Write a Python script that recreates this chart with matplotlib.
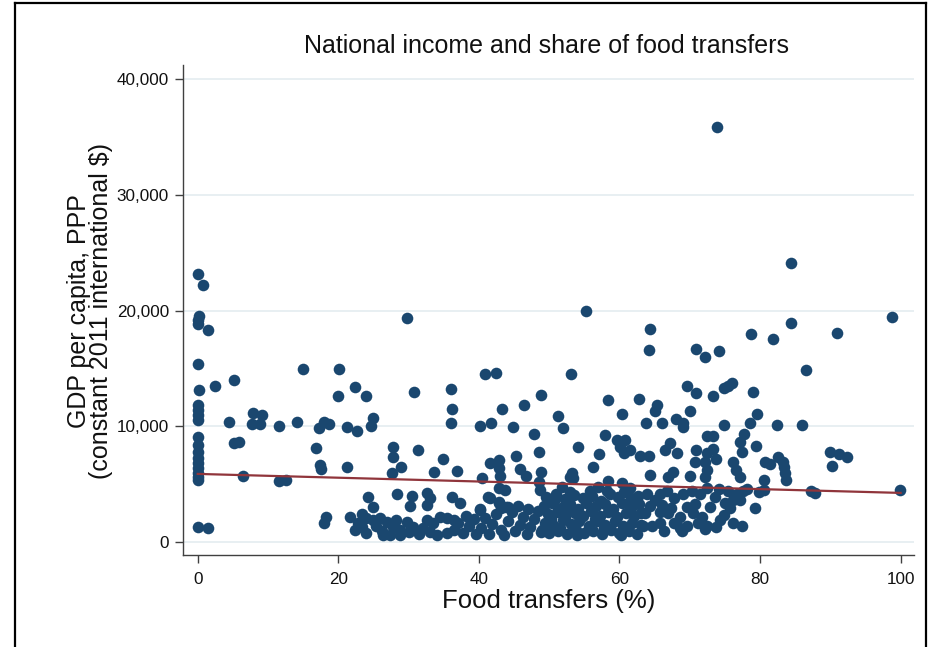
import matplotlib
matplotlib.use("Agg")
import matplotlib.pyplot as plt
from matplotlib.lines import Line2D
from matplotlib.ticker import FuncFormatter
import numpy as np

plt.rcParams['font.family'] = ['Liberation Sans', 'DejaVu Sans']

# Countries with (almost) no food transfers
share_zero = [0.0, 0.7, 0.2, 0.1, 0.0, 1.4, 0.0, 0.2, 0.0, 0.0, 0.0, 0.0,
              0.1, 0.0, 0.0, 0.0, 0.0, 0.0, 0.0, 0.0, 0.0, 0.1, 1.5]
gdp_zero = [23150, 22200, 19540, 19200, 18850, 18330, 15420, 13150, 11860, 11430, 11000, 10570,
            9120, 8400, 7820, 7250, 6820, 6390, 5960, 5600, 5380, 1350, 1260]

# Scattered observations, low to mid food-transfer shares
share_low = [29.7, 15.0, 20.1, 5.2, 2.4, 22.3, 19.9, 24.0, 30.8, 4.5, 7.8, 9.1,
             7.7, 8.9, 11.6, 14.1, 17.2, 17.9, 18.7, 21.2, 22.7, 24.65, 25.0, 5.2,
             5.9, 6.5, 11.6, 12.6, 16.8, 17.4, 17.6, 21.2, 27.8, 27.8, 28.9, 27.6,
             31.3, 24.2, 24.9, 28.4, 30.5, 30.2, 18.25, 17.97]
gdp_low = [19340, 14960, 14960, 14050, 13500, 13410, 12630, 12660, 13000, 10390, 11140, 10990,
           10215, 10215, 10040, 10410, 9840, 10410, 10215, 9980, 9640, 10040, 10710, 8550,
           8690, 5680, 5320, 5380, 8115, 6675, 6300, 6530, 8255, 7390, 6530, 5960,
           7940, 3940, 3020, 4145, 4000, 3160, 2210, 1690]

# Scattered observations, mid shares
share_mid = [55.3, 64.4, 64.2, 40.9, 42.5, 53.1, 36.0, 36.1, 36.0, 43.3, 46.4, 48.9,
             40.2, 41.7, 44.9, 47.9, 51.2, 52.0, 58.3, 60.4, 62.8, 65.3, 65.0, 63.8,
             66.0, 34.85, 33.6, 36.9, 54.05, 58.0, 57.1, 56.3, 48.6, 45.3, 45.8, 46.7,
             48.8, 41.6, 42.8, 42.9, 43.0, 40.4, 42.8, 43.7, 41.3, 42.9, 44.2, 36.1,
             37.3, 32.6, 33.0, 32.6, 40.1, 48.6, 48.7, 51.8, 53.2, 53.4, 53.0, 57.0,
             58.4, 60.3, 61.5, 64.3, 59.6, 60.8, 60.1, 61.5, 60.6, 62.9, 64.2, 41.6,
             42.8, 43.2, 43.9, 40.2]
gdp_mid = [20000, 18420, 16580, 14505, 14590, 14550, 13210, 11480, 10275, 11480, 11860, 12720,
           10070, 10275, 9980, 9350, 10905, 9840, 12290, 11080, 12350, 11860, 11365, 10275,
           10275, 7190, 6045, 6160, 8200, 9265, 7600, 6530, 7825, 7450, 6300, 5725,
           6100, 6820, 7110, 6390, 5725, 5580, 4660, 4515, 3885, 3505, 3075, 3940,
           3420, 4285, 3800, 3220, 2850, 5235, 4515, 4800, 5960, 5530, 5665, 4800,
           5320, 5095, 4660, 5810, 8835, 8835, 8255, 7970, 7685, 7450, 7450, 3800,
           3370, 2935, 3075, 2790]

# Scattered observations, high shares
share_high = [73.9, 84.35, 98.8, 84.35, 90.9, 78.7, 81.9, 70.9, 72.1, 74.1, 86.5, 69.6,
              70.9, 73.3, 74.8, 76.0, 75.4, 79.0, 68.0, 69.0, 70.0, 69.1, 74.9, 78.6,
              79.6, 82.4, 86.0, 72.4, 73.25, 77.7, 77.1, 77.4, 79.4, 67.2, 66.5, 68.2,
              70.9, 72.4, 73.25, 73.8, 70.7, 72.2, 72.4, 72.2, 76.2, 76.6, 77.1, 80.7,
              81.4, 82.6, 83.2, 83.4, 83.5, 83.7, 89.9, 91.3, 92.3, 90.3, 66.9, 67.6,
              70.0, 80.6, 80.5, 79.3, 78.2, 79.8, 87.2, 87.8, 99.9]
gdp_high = [35860, 24090, 19480, 18965, 18050, 17960, 17555, 16665, 16030, 16545, 14880, 13525,
            12865, 12630, 13300, 13780, 13500, 13000, 10620, 10275, 11365, 9980, 10130, 10330,
            11050, 10130, 10130, 9180, 9180, 9350, 8690, 7825, 8345, 8550, 7970, 7685,
            7970, 7685, 8030, 7165, 6960, 6960, 6245, 5665, 6960, 6245, 5665, 6960,
            6760, 7390, 6960, 6475, 5960, 5380, 7770, 7600, 7390, 6590, 5665, 6100,
            5725, 5380, 4515, 2935, 4575, 4370, 4455, 4285, 4515]

# Dense cluster of lower-income countries
share_dense = [21.7, 23.3, 24.0, 25.0, 25.9, 26.9, 27.8, 28.8, 29.7, 22.4, 24.0, 23.3,
               26.4, 27.4, 32.6, 33.5, 34.5, 35.4, 36.4, 33.0, 34.0, 35.4, 36.4, 32.1,
               28.8, 22.8, 25.3, 26.2, 28.2, 30.0, 31.5, 30.6,
               37.0, 37.8, 38.6, 39.3, 39.6, 38.2,
               40.3, 40.8, 41.4, 41.9, 42.5, 43.1, 43.6, 44.1, 44.7, 45.2, 45.8, 46.3,
               46.8, 47.3, 47.9, 48.4, 48.9, 45.5, 47.0,
               49.6, 51.0, 52.2, 53.5, 54.8, 56.1, 57.4, 58.6, 59.8, 61.0, 62.2,
               49.2, 50.4, 51.7, 52.9, 54.1, 55.3, 56.6, 57.9, 59.1, 60.3, 61.6, 62.8,
               49.8, 51.1, 52.3, 53.6, 54.8, 56.0, 57.2, 58.4, 59.7, 60.9, 62.1,
               49.4, 50.6, 51.9, 53.1, 54.3, 55.6, 56.8, 58.0, 59.3, 60.5, 61.8, 63.0,
               49.9, 51.2, 52.5, 53.8, 55.0, 56.3, 57.5, 58.8, 60.0, 61.3, 62.5,
               50.2, 51.5, 52.8, 54.0, 55.2, 56.5, 57.8, 59.0, 60.2, 61.5,
               49.0, 50.8, 53.0, 55.8, 58.2, 60.7, 62.6,
               63.9, 65.1, 65.8, 66.7, 67.7, 69.1, 70.3, 71.5, 72.4, 74.1, 75.5, 76.7, 77.6,
               63.6, 64.6, 63.4, 65.8, 66.9, 67.7, 68.6, 69.6, 70.5, 71.2, 72.4, 72.9,
               71.7, 75.0, 74.8, 75.7, 76.2, 77.4, 76.2, 77.1, 68.6, 65.8, 72.2, 69.6,
               64.3, 66.0, 67.3, 70.8, 73.6, 74.3, 66.4, 68.9, 73.7, 62.0, 63.0]
gdp_dense = [2210, 2445, 2070, 1925, 2070, 1780, 1350, 1065, 1780, 1065, 780, 1350,
             630, 630, 1925, 1640, 2210, 2070, 1925, 915, 630, 780, 1065, 1210,
             630, 1700, 1400, 1000, 1900, 900, 700, 1350,
             1700, 800, 1400, 2000, 700, 2300,
             1200, 2100, 700, 1600, 2400, 1100, 600, 1800, 2600, 1000, 1500, 2200,
             700, 1300, 2000, 2700, 900, 3100, 2900,
             3900, 4200, 3700, 4100, 3800, 4000, 3600, 4150, 3900, 4300, 3800,
             3100, 3400, 3000, 3300, 2900, 3400, 3100, 3300, 2900, 3400, 3000, 3300,
             2400, 2600, 2200, 2500, 2300, 2700, 2300, 2600, 2200, 2500, 2300,
             1700, 1500, 1900, 1600, 1800, 1400, 1800, 1500, 1800, 1400, 1700, 1500,
             800, 1000, 700, 1100, 800, 1000, 700, 1100, 800, 1000, 700,
             2000, 1200, 2800, 600, 3600, 2000, 1200, 2800, 600, 3600,
             1100, 3700, 4300, 4400, 4400, 4300, 4000,
             4140, 3650, 4140, 4430, 3860, 4140, 4430, 4140, 4720, 4575, 4430, 4140, 4430,
             2500, 1410, 1410, 2650, 2500, 1640, 2210, 3075, 2500, 1640, 1410, 3075,
             2210, 3360, 2350, 2930, 1640, 1410, 3650, 3650, 1265, 1640, 1120, 1410,
             3100, 3200, 3000, 3300, 3900, 1900, 1000, 1000, 1300, 3300, 2500]

# Linear fit of GDP per capita on the food-transfer share
fit_share = [0, 100]
fit_gdp = [5900, 4260]

x_ticks = [0, 20, 40, 60, 80, 100]
y_ticks = [0, 10000, 20000, 30000, 40000]

share = np.concatenate([share_zero, share_low, share_mid, share_high, share_dense])
gdp = np.concatenate([gdp_zero, gdp_low, gdp_mid, gdp_high, gdp_dense])

navy = '#1a476f'
maroon = '#90353b'
axis_col = '#404040'

fig = plt.figure(figsize=(9.32, 6.47), dpi=100)
ax = fig.add_axes([183 / 932, 1 - 555 / 647, (914 - 183) / 932, (555 - 65) / 647])

ax.scatter(share, gdp, s=70, color=navy, linewidths=0, zorder=3)
ax.plot(fit_share, fit_gdp, color=maroon, lw=1.6, zorder=4)

ax.set_xlim(-2.1, 101.9)
ax.set_ylim(-1100, 41200)
ax.set_xticks(x_ticks)
ax.set_yticks(y_ticks)
ax.yaxis.set_major_formatter(FuncFormatter(lambda v, p: f"{int(v):,}"))

ax.grid(axis='y', color='#e6eef1', lw=1.3, zorder=0)
ax.set_axisbelow(True)
for side in ('top', 'right'):
    ax.spines[side].set_visible(False)
for side in ('left', 'bottom'):
    ax.spines[side].set_color(axis_col)
    ax.spines[side].set_linewidth(1.0)
ax.tick_params(axis='both', direction='out', length=6, width=1.0, color=axis_col,
               labelsize=12.3, labelcolor='#111111')
ax.tick_params(axis='y', pad=4)
ax.tick_params(axis='x', pad=6)

fig.text(546 / 932, 1 - 46 / 647, 'National income and share of food transfers',
         ha='center', va='center', fontsize=18, color='#111111')
fig.text(549 / 932, 1 - 601 / 647, 'Food transfers (%)',
         ha='center', va='center', fontsize=18.5, color='#111111')
fig.text(90 / 932, 1 - 311 / 647, 'GDP per capita, PPP\n(constant 2011 international $)',
         ha='center', va='center', rotation=90, fontsize=18, color='#111111',
         linespacing=0.85)

# Outer frame
fx0, fx1, fy1 = 15 / 932, 926 / 932, 1 - 3 / 647
for xs, ys in (([fx0, fx0], [0, fy1]), ([fx0, fx1], [fy1, fy1]), ([fx1, fx1], [0, fy1])):
    fig.add_artist(Line2D(xs, ys, color='black', lw=1.6, transform=fig.transFigure))

fig.savefig('out.png', dpi=100)
